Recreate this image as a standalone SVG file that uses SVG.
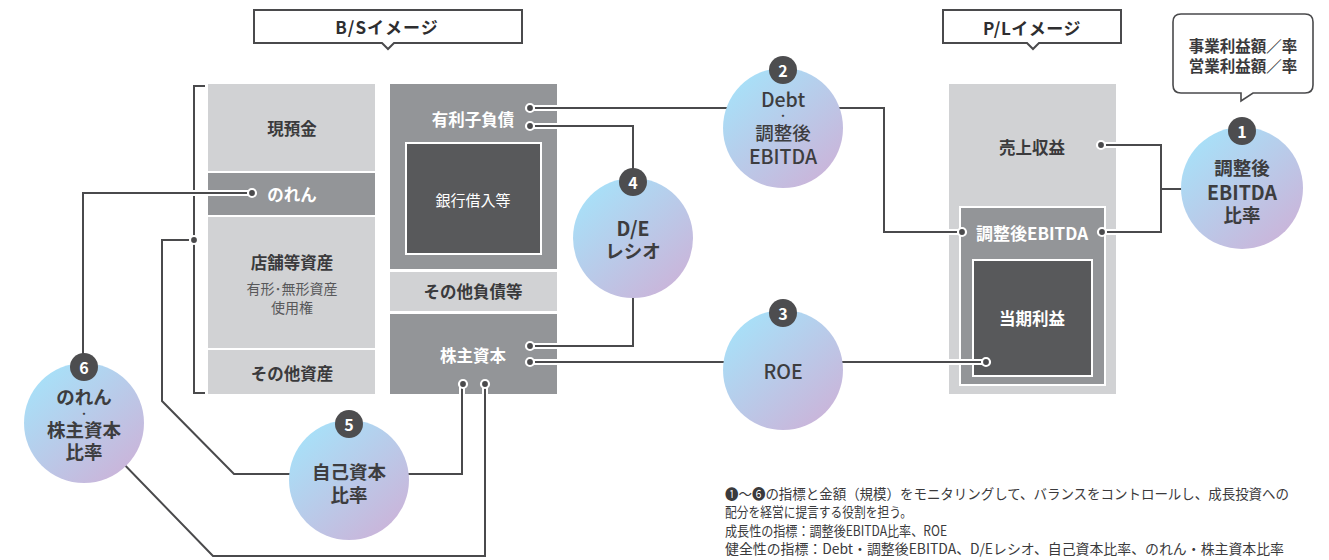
<svg xmlns="http://www.w3.org/2000/svg" width="1329" height="560" viewBox="0 0 1329 560">
<defs>
<linearGradient id="grad" x1="0.15" y1="0.1" x2="0.85" y2="0.9">
<stop offset="0" stop-color="#a8e0f8"/>
<stop offset="1" stop-color="#cab5da"/>
</linearGradient>
<style>
text{font-family:"Noto Sans CJK JP","Noto Sans",sans-serif;text-anchor:middle;dominant-baseline:central}
.lt{fill:#d1d2d4}
.md{fill:#939598}
.dk{fill:#58595b;stroke:#fff;stroke-width:2}
.mdb{fill:#939598;stroke:#fff;stroke-width:2}
.frame{fill:#fff;stroke:#4a4a4c;stroke-width:2}
.halo{fill:none;stroke:#fff;stroke-width:6}
.ln{fill:none;stroke:#4a4a4c;stroke-width:2}
.dot{fill:#4a4a4c;stroke:#fff;stroke-width:2.2}
.tdk{fill:#3a3a3c;font-weight:700;font-size:16.5px}
.twh{fill:#fff;font-weight:700;font-size:16.5px}
.ball{fill:url(#grad)}
.badge{fill:#4d4d4f}
.bnum{fill:#fff;font-weight:700;font-size:16px}
.ct{fill:#3d3d3f;font-weight:700;font-size:18.5px}
.cl{fill:#3d3d3f;font-weight:700;font-size:19.5px}
.mid{fill:#3d3d3f;font-weight:700;font-size:9px}
.foot{fill:#3a3a3c;font-size:14px;text-anchor:start}
</style>
</defs>

<g id="bs-header">
<path class="frame" d="M254,43 V10 H522 V43 H394 L388,49 L382,43 Z"/>
<text x="387" y="26" style="font-weight:700;font-size:17px;letter-spacing:1px;fill:#2e2e30">B/Sイメージ</text>
</g>
<g id="pl-header">
<path class="frame" d="M943,43 V10 H1121 V43 H1039 L1033,49 L1027,43 Z"/>
<text x="1032" y="27" style="font-weight:700;font-size:17px;letter-spacing:0.5px;fill:#2e2e30">P/Lイメージ</text>
</g>
<g id="bubble">
<path class="frame" style="stroke-width:1.6" d="M1181,14 H1305 Q1313,14 1313,22 V85 Q1313,93 1305,93 H1253 L1241,101 V93 H1181 Q1173,93 1173,85 V22 Q1173,14 1181,14 Z"/>
<text x="1243" y="45" class="tdk" style="font-size:15.5px">事業利益額／率</text>
<text x="1243" y="65" class="tdk" style="font-size:15.5px">営業利益額／率</text>
</g>

<g id="bs-bracket">
<path class="ln" d="M205,86 H194 V393 H205"/>
</g>
<g id="cash">
<rect class="lt" x="208" y="84" width="167" height="87"/>
<text x="292" y="128" class="tdk">現預金</text>
</g>
<g id="goodwill">
<rect class="md" x="208" y="173" width="167" height="42"/>
<text x="292" y="194" class="twh">のれん</text>
</g>
<g id="store-assets">
<rect class="lt" x="208" y="217" width="167" height="131"/>
<text x="292" y="262" class="tdk">店舗等資産</text>
<text x="292" y="288" style="fill:#58585a;font-size:14px">有形･無形資産</text>
<text x="292" y="307" style="fill:#58585a;font-size:14px">使用権</text>
</g>
<g id="other-assets">
<rect class="lt" x="208" y="350" width="167" height="44"/>
<text x="292" y="373" class="tdk">その他資産</text>
</g>
<g id="interest-debt">
<rect class="md" x="390" y="84" width="167" height="185"/>
<text x="473" y="119" class="twh">有利子負債</text>
</g>
<g id="bank-loans">
<rect class="dk" x="406" y="143" width="135" height="111"/>
<text x="473" y="199" style="fill:#fff;font-size:15px">銀行借入等</text>
</g>
<g id="other-liab">
<rect class="lt" x="390" y="272" width="167" height="39"/>
<text x="473" y="291" class="tdk">その他負債等</text>
</g>
<g id="equity">
<rect class="md" x="390" y="314" width="167" height="80"/>
<text x="473" y="355" class="twh">株主資本</text>
</g>

<g id="revenue">
<rect class="lt" x="949" y="84" width="167" height="310"/>
<text x="1032" y="147" class="tdk">売上収益</text>
</g>
<g id="adj-ebitda">
<rect class="mdb" x="960" y="207" width="145" height="178"/>
<text x="1032" y="232" class="twh" style="font-size:17px">調整後EBITDA</text>
</g>
<g id="net-income">
<rect class="dk" x="973" y="260" width="119" height="116"/>
<text x="1032" y="318" class="twh">当期利益</text>
</g>

<g id="connectors">
<path class="halo" d="M252,193 H83 V370"/>
<path class="halo" d="M194,240 H162 V401 L234,474 H462 V384"/>
<path class="halo" d="M84,423 L213,556 H485 V384"/>
<path class="halo" d="M530,108 H884 V232 H962"/>
<path class="halo" d="M530,126 H633 V346 H530"/>
<path class="halo" d="M530,362 H986"/>
<path class="halo" d="M1101,145 H1161 V232 H1102 M1161,189 H1242"/>
<path class="ln" d="M252,193 H83 V370"/>
<path class="ln" d="M194,240 H162 V401 L234,474 H462 V384"/>
<path class="ln" d="M84,423 L213,556 H485 V384"/>
<path class="ln" d="M530,108 H884 V232 H962"/>
<path class="ln" d="M530,126 H633 V346 H530"/>
<path class="ln" d="M530,362 H986"/>
<path class="ln" d="M1101,145 H1161 V232 H1102 M1161,189 H1242"/>
<circle class="dot" cx="252" cy="193" r="4"/>
<circle class="dot" cx="194" cy="240" r="4"/>
<circle class="dot" cx="530" cy="108" r="4"/>
<circle class="dot" cx="530" cy="126" r="4"/>
<circle class="dot" cx="530" cy="346" r="4"/>
<circle class="dot" cx="530" cy="362" r="4"/>
<circle class="dot" cx="463" cy="384" r="4"/>
<circle class="dot" cx="485" cy="384" r="4"/>
<circle class="dot" cx="1101" cy="145" r="4"/>
<circle class="dot" cx="962" cy="232" r="4"/>
<circle class="dot" cx="1102" cy="232" r="4"/>
<circle class="dot" cx="986" cy="362" r="4"/>
</g>

<g id="kpi1">
<circle class="ball" cx="1242" cy="188" r="61"/>
<circle class="badge" cx="1242" cy="131" r="14"/>
<text x="1242" y="131" class="bnum">1</text>
<text x="1242" y="167" class="ct">調整後</text>
<text x="1242" y="191" class="cl">EBITDA</text>
<text x="1242" y="214" class="ct">比率</text>
</g>
<g id="kpi2">
<circle class="ball" cx="783" cy="128" r="60"/>
<circle class="badge" cx="783" cy="70" r="14"/>
<text x="783" y="70" class="bnum">2</text>
<text x="783" y="98" class="cl" style="font-weight:500">Debt</text>
<text x="783" y="115" class="mid">・</text>
<text x="783" y="132" class="ct" style="font-weight:500">調整後</text>
<text x="783" y="155" class="cl" style="font-weight:500">EBITDA</text>
</g>
<g id="kpi3">
<circle class="ball" cx="783" cy="370" r="60"/>
<circle class="badge" cx="783" cy="313" r="14"/>
<text x="783" y="313" class="bnum">3</text>
<text x="783" y="370" class="cl" style="font-weight:500">ROE</text>
</g>
<g id="kpi4">
<circle class="ball" cx="633" cy="238" r="60"/>
<circle class="badge" cx="633" cy="182" r="14"/>
<text x="633" y="182" class="bnum">4</text>
<text x="633" y="227" class="cl">D/E</text>
<text x="633" y="250" class="ct">レシオ</text>
</g>
<g id="kpi5">
<circle class="ball" cx="349" cy="480" r="60"/>
<circle class="badge" cx="349" cy="424" r="14"/>
<text x="349" y="424" class="bnum">5</text>
<text x="349" y="471" class="ct">自己資本</text>
<text x="349" y="494" class="ct">比率</text>
</g>
<g id="kpi6">
<circle class="ball" cx="84" cy="423" r="60"/>
<circle class="badge" cx="84" cy="367" r="14"/>
<text x="84" y="367" class="bnum">6</text>
<text x="84" y="396" class="ct">のれん</text>
<text x="84" y="413" class="mid">・</text>
<text x="84" y="429" class="ct">株主資本</text>
<text x="84" y="451" class="ct">比率</text>
</g>

<g id="footer">
<text x="725" y="493" class="foot" textLength="564" lengthAdjust="spacingAndGlyphs">❶～❻の指標と金額（規模）をモニタリングして、バランスをコントロールし、成長投資への</text>
<text x="725" y="511" class="foot" textLength="187" lengthAdjust="spacingAndGlyphs">配分を経営に提言する役割を担う。</text>
<text x="725" y="530" class="foot" textLength="222" lengthAdjust="spacingAndGlyphs">成長性の指標：調整後EBITDA比率、ROE</text>
<text x="725" y="548" class="foot" textLength="559" lengthAdjust="spacingAndGlyphs">健全性の指標：Debt・調整後EBITDA、D/Eレシオ、自己資本比率、のれん・株主資本比率</text>
</g>
</svg>
